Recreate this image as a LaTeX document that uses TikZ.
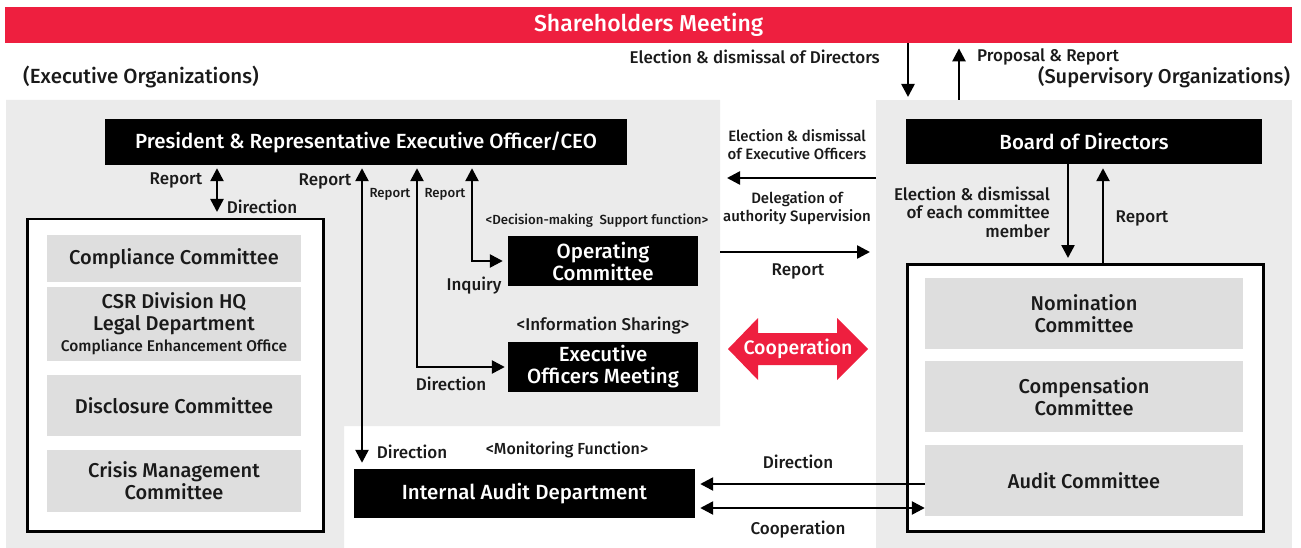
\documentclass[tikz,border=0pt]{standalone}
\usepackage{fontspec}
\setmainfont{Fira Sans}[UprightFont={* Medium}]
\usetikzlibrary{arrows.meta}
\definecolor{shred}{HTML}{EE1F3F}
\definecolor{bggray}{HTML}{EBEBEB}
\definecolor{boxgray}{HTML}{DEDEDE}
\definecolor{ink}{HTML}{1A1A1A}
\tikzset{
 blk/.style={fill=black,text=white,inner sep=0pt,align=center,font=\fontsize{20.5}{22}\selectfont},
 gbox/.style={fill=boxgray,text=ink,inner sep=0pt,align=center,font=\fontsize{20}{22}\selectfont,minimum width=254pt},
 lbl/.style={inner sep=0pt,text=ink,font=\fontsize{17}{18.5}\selectfont,align=center},
 slbl/.style={inner sep=0pt,text=ink,font=\fontsize{13.2}{18}\selectfont,align=center},
 mlbl/.style={inner sep=0pt,text=ink,font=\fontsize{15}{18}\selectfont,align=center},
 arr/.style={line width=2.5pt,-{Triangle[length=13pt,width=13pt]}},
 darr/.style={line width=2.5pt,{Triangle[length=13pt,width=13pt]}-{Triangle[length=13pt,width=13pt]}},
 frame/.style={draw=black,line width=2.5pt,fill=white,inner sep=0pt,anchor=north west}
}
\begin{document}
\begin{tikzpicture}[x=1pt,y=-1pt]
\useasboundingbox (0,0) rectangle (1301,548);
% backgrounds
\fill[bggray] (6,100) -- (720,100) -- (720,426) -- (344,426) -- (344,548) -- (6,548) -- cycle;
\node[fill=bggray,minimum width=416pt,minimum height=448pt,inner sep=0pt,anchor=north west] (rg) at (876,100) {};
\coordinate (lgE) at (720,0);
% shareholders
\node[fill=shred,text=white,minimum width=1287pt,minimum height=36pt,inner sep=0pt,anchor=north west,font=\fontsize{23}{24}\selectfont] (sh) at (5,7) {\raisebox{-1.5pt}{Shareholders Meeting}};
\node[lbl,font=\fontsize{20.5}{20}\selectfont] (exo) at (141,77) {(Executive Organizations)};
\node[lbl,font=\fontsize{20}{20}\selectfont] (supo) at (1164,77) {(Supervisory Organizations)};
\node[lbl,anchor=east] (edd) at (880,57) {Election \& dismissal of Directors};
\node[lbl,anchor=west] (prr) at (977,57) {Proposal \& Report};
% main boxes
\node[blk,minimum width=522pt,minimum height=46pt] (pres) at (366,142) {President \& Representative Executive Officer/CEO};
\node[blk,minimum width=356pt,minimum height=45pt] (board) at (1084,141.5) {Board of Directors};
\node[frame,minimum width=296pt,minimum height=312pt] (lbox) at (26,218) {};
\node[gbox,minimum height=47pt] (comp) at (174,258.5) {Compliance Committee};
\node[gbox,minimum height=74pt] (csr) at (174,324) {CSR Division HQ\\Legal Department\\[-1pt]{\fontsize{15.5}{17}\selectfont Compliance Enhancement Office}};
\node[gbox,minimum height=61pt] (disc) at (174,405.5) {Disclosure Committee};
\node[gbox,minimum height=62pt] (cris) at (174,481) {Crisis Management\\Committee};
\node[blk,minimum width=190pt,minimum height=50pt] (oc) at (603,261) {Operating\\Committee};
\node[blk,minimum width=190pt,minimum height=50pt] (eom) at (603,367) {Executive\\Officers Meeting};
\node[blk,minimum width=341pt,minimum height=49pt] (ia) at (524.5,493.5) {Internal Audit Department};
\node[frame,minimum width=356pt,minimum height=267pt] (rbox) at (906,263) {};
\node[gbox,minimum width=318pt,minimum height=71pt] (nom) at (1084,313.5) {Nomination\\Committee};
\node[gbox,minimum width=318pt,minimum height=71pt] (cmp) at (1084,396.5) {Compensation\\Committee};
\node[gbox,minimum width=318pt,minimum height=71pt] (audit) at (1084,480.5) {Audit Committee};
% cooperation red arrow
\fill[shred] (728,349) -- (758,318) -- (758,333) -- (837,333) -- (837,318) -- (868,349) -- (837,380) -- (837,365) -- (758,365) -- (758,380) -- cycle;
\node[lbl,text=white,font=\fontsize{19.5}{20}\selectfont] (coop) at (798,349) {Cooperation};
% helper coordinates
\coordinate (c217) at (217,0);
\coordinate (c362) at (362,0);
\coordinate (c417) at (417,0);
\coordinate (c472) at (472,0);
\coordinate (c908) at (908,0);
\coordinate (c959) at (959,0);
\coordinate (c1068) at (1068,0);
\coordinate (c1103) at (1103,0);
\coordinate (y178) at (0,178);
\coordinate (y252) at (0,252);
\coordinate (y484) at (0,484);
\coordinate (y508) at (0,508);
% connectors
\draw[arr] (sh.south -| c908) -- ([yshift=3pt]rg.north -| c908);
\draw[arr] (rg.north -| c959) -- ([yshift=-5pt]sh.south -| c959);
\draw[darr] ([yshift=-3pt]pres.south -| c217) -- ([yshift=6pt]lbox.north -| c217);
\draw[darr] ([yshift=-3pt]pres.south -| c362) -- ([yshift=6pt]ia.north -| c362);
\draw[darr] ([yshift=-3pt]pres.south -| c417) |- ([xshift=-3pt]eom.west);
\draw[darr] ([yshift=-3pt]pres.south -| c472) |- ([xshift=-5pt]oc.west);
\draw[arr] (rg.west |- y178) -- ([xshift=7pt]lgE |- y178);
\draw[arr] (lgE |- y252) -- ([xshift=-6pt]rg.west |- y252);
\draw[arr] (board.south -| c1068) -- ([yshift=5pt]rbox.north -| c1068);
\draw[arr] (rbox.north -| c1103) -- ([yshift=-4pt]board.south -| c1103);
\draw[arr] (audit.west |- y484) -- ([xshift=5pt]ia.east |- y484);
\draw[darr] ([xshift=5pt]ia.east |- y508) -- (audit.west |- y508);
% labels
\node[lbl] (l1) at (176,180) {Report};
\node[lbl] (l2) at (262,207) {Direction};
\node[lbl] (l3) at (325,181) {Report};
\node[slbl] (l4) at (390,194) {Report};
\node[slbl] (l5) at (445,194) {Report};
\node[slbl] (l6) at (597,221) {<Decision-making~ Support function>};
\node[lbl] (l7) at (474,286) {Inquiry};
\node[lbl] (l8) at (603,326) {<Information Sharing>};
\node[lbl] (l9) at (451,384) {Direction};
\node[lbl] (l10) at (412,452) {Direction};
\node[mlbl,font=\fontsize{16}{18}\selectfont] (l11) at (567,450) {<Monitoring Function>};
\node[lbl] (l12) at (798,462) {Direction};
\node[lbl] (l13) at (798,530) {Cooperation};
\node[mlbl] (l14) at (797,145) {Election \& dismissal\\of Executive Officers};
\node[mlbl] (l15) at (797,208) {Delegation of\\authority Supervision};
\node[lbl] (l16) at (798,271) {Report};
\node[lbl,align=right,anchor=east] (l17) at (1050,212) {Election \& dismissal\\of each committee\\member};
\node[lbl] (l18) at (1142,218) {Report};
\end{tikzpicture}
\end{document}
